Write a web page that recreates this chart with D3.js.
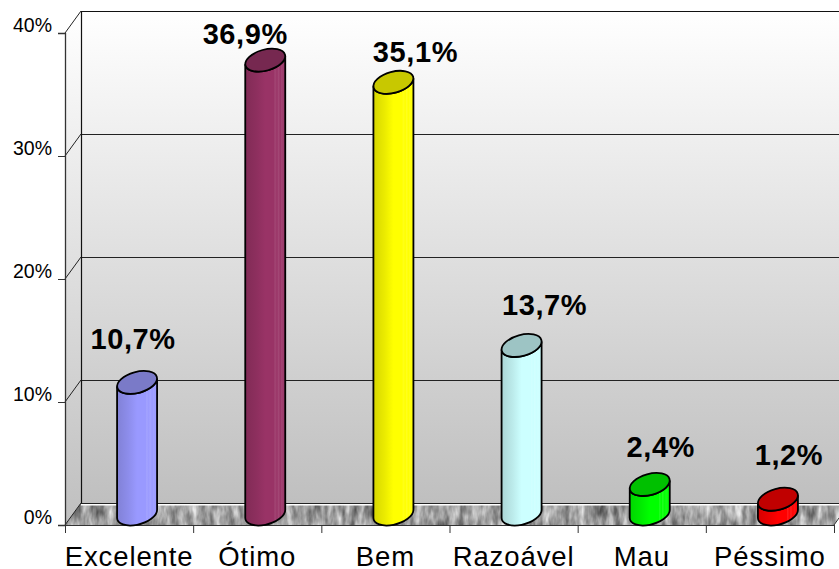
<!DOCTYPE html>
<html>
<head>
<meta charset="utf-8">
<title>Chart</title>
<script src="https://cdn.jsdelivr.net/npm/d3@7"></script>
<style>
body { margin: 0; background: #fff; }
text { font-family: "Liberation Sans", Arial, sans-serif; fill: #000; }
</style>
</head>
<body>
<script>
var categories = ["Excelente", "Ótimo", "Bem", "Razoável", "Mau", "Péssimo"];
var values = [10.7, 36.9, 35.1, 13.7, 2.4, 1.2];
var valueLabels = ["10,7%", "36,9%", "35,1%", "13,7%", "2,4%", "1,2%"];
var yTicks = [0, 10, 20, 30, 40];
var sideColors = ["#9999ff", "#993366", "#ffff00", "#ccffff", "#00ff00", "#ff0000"];
var topColors = ["#7a7ac8", "#762850", "#c8c800", "#9dc4c4", "#00c000", "#c00000"];

var width = 839, height = 569;
var depthX = 16, depthY = 22;

// the value labels were dragged by hand in the original
var labelDx = [-4, -20, 22, 23, 11, 11];
var labelDy = [-33, -16, -20, -30, -27, -34];

var svg = d3.select("body").append("svg")
    .attr("width", width)
    .attr("height", height);
var defs = svg.append("defs");

var x = d3.scaleBand().domain(categories).range([65, 834]);
var y = d3.scaleLinear().domain([0, 40]).range([525, 33]);

// wall shading
var wall = defs.append("linearGradient").attr("id", "wall")
    .attr("x1", 0).attr("y1", 0).attr("x2", 0).attr("y2", 1);
wall.append("stop").attr("offset", 0).attr("stop-color", "#ffffff");
wall.append("stop").attr("offset", 1).attr("stop-color", "#bfbfbf");

// stone look of the floor
var stone = defs.append("filter").attr("id", "stone")
    .attr("x", 0).attr("y", 0).attr("width", 1).attr("height", 1)
    .attr("color-interpolation-filters", "sRGB");
stone.append("feTurbulence").attr("type", "fractalNoise")
    .attr("baseFrequency", "0.14 0.05").attr("numOctaves", 3).attr("seed", 4);
stone.append("feColorMatrix").attr("type", "matrix")
    .attr("values", "0.8 0 0 0 0.22  0.8 0 0 0 0.22  0.8 0 0 0 0.22  0 0 0 0 1");

// cylinder body shading, darker on the left with lighter strips to the right
sideColors.forEach(function(c, i) {
    var g = defs.append("linearGradient").attr("id", "body" + i);
    var dark = d3.interpolateRgb(c, "#000");
    var light = d3.interpolateRgb(c, "#fff");
    [[0, dark(0.16)], [0.28, dark(0.08)], [0.5, c], [0.72, c], [0.74, light(0.1)],
     [0.8, c], [0.82, light(0.12)], [0.88, c], [0.9, light(0.08)], [1, c]]
        .forEach(function(s) {
            g.append("stop").attr("offset", s[0]).attr("stop-color", s[1]);
        });
});

var backLeft = 65 + depthX, backRight = width;

// back wall and side wall
svg.append("rect")
    .attr("x", backLeft).attr("y", y(40) - depthY)
    .attr("width", backRight - backLeft).attr("height", y(0) - y(40))
    .attr("fill", "url(#wall)");
svg.append("path")
    .attr("d", d3.line()([[65, y(40)], [backLeft, y(40) - depthY], [backLeft, y(0) - depthY], [65, y(0)]]))
    .attr("fill", "url(#wall)");

// floor
defs.append("clipPath").attr("id", "floorClip").append("path")
    .attr("d", d3.line()([[65, y(0)], [backLeft, y(0) - depthY], [width, y(0) - depthY], [width, y(0) - 7], [834, y(0)]]) + "Z");
svg.append("rect")
    .attr("x", 60).attr("y", y(0) - depthY).attr("width", width - 60).attr("height", depthY + 1)
    .attr("filter", "url(#stone)")
    .attr("clip-path", "url(#floorClip)");
svg.append("line")
    .attr("x1", backLeft).attr("x2", width)
    .attr("y1", y(0) - depthY + 1.5).attr("y2", y(0) - depthY + 1.5)
    .attr("stroke", "#fff").attr("stroke-width", 2);

// gridlines on the back wall and the diagonals on the side wall
var grid = svg.append("g").attr("stroke", "#222").attr("stroke-width", 1);
grid.selectAll(".gridline").data(yTicks).join("line")
    .attr("class", "gridline")
    .attr("x1", backLeft).attr("x2", width)
    .attr("y1", function(d) { return Math.round(y(d) - depthY) + 0.5; })
    .attr("y2", function(d) { return Math.round(y(d) - depthY) + 0.5; });
grid.selectAll(".diag").data(yTicks).join("line")
    .attr("class", "diag")
    .attr("x1", 65).attr("x2", backLeft)
    .attr("y1", function(d) { return y(d); })
    .attr("y2", function(d) { return y(d) - depthY; });
svg.append("line")
    .attr("x1", backLeft + 0.5).attr("x2", backLeft + 0.5)
    .attr("y1", y(40) - depthY).attr("y2", y(0) - depthY)
    .attr("stroke", "#111").attr("stroke-width", 1.2);
svg.append("line")
    .attr("x1", backLeft).attr("x2", width)
    .attr("y1", y(40) - depthY + 0.5).attr("y2", y(40) - depthY + 0.5)
    .attr("stroke", "#111").attr("stroke-width", 1.2);
svg.append("line")
    .attr("x1", 834).attr("x2", width)
    .attr("y1", y(0)).attr("y2", y(0) - 7)
    .attr("stroke", "#333");

// axes
var yAxis = d3.axisLeft(y)
    .tickValues(yTicks)
    .tickSize(7)
    .tickFormat(function(d) { return d + "%"; });
var yG = svg.append("g").attr("transform", "translate(65,0)").call(yAxis);
yG.selectAll("path").attr("stroke", "#333").attr("stroke-width", 1.3);
yG.selectAll("line").attr("stroke", "#333");
yG.selectAll("text")
    .attr("font-size", 19.5).attr("x", -13).attr("y", -5.5).attr("dy", "0.2em")
    .style("font-family", '"Liberation Sans", Arial, sans-serif');

var xAxis = d3.axisBottom(x).tickSize(0).tickPadding(21.5);
var xG = svg.append("g").attr("transform", "translate(0," + y(0) + ")").call(xAxis);
xG.selectAll("path").attr("stroke", "#333").attr("stroke-width", 1.2);
xG.selectAll("text")
    .attr("font-size", 27.5)
    .attr("letter-spacing", 0.9)
    .style("font-family", '"Liberation Sans", Arial, sans-serif');
var tickEdges = [65].concat(categories.map(function(c) { return x(c) + x.bandwidth(); }));
svg.selectAll(".xtick").data(tickEdges).join("line")
    .attr("class", "xtick")
    .attr("x1", function(d) { return d + 0.5; }).attr("x2", function(d) { return d + 0.5; })
    .attr("y1", y(0)).attr("y2", y(0) + 8)
    .attr("stroke", "#333");

// cylinders
var halfW = 20, tilt = 4, rx = 20.5, ry = 10.5, rot = -15.4;
var bars = svg.selectAll(".bar").data(categories).join("g").attr("class", "bar");

function centerX(c) { return x(c) + x.bandwidth() / 2 + depthX / 2; }
function topY(i) { return y(values[i]) - depthY / 2; }
var bottomY = y(0) - depthY / 2;

bars.append("path")
    .attr("fill", function(d, i) { return "url(#body" + i + ")"; })
    .attr("stroke", "#000").attr("stroke-width", 1.8)
    .attr("d", function(d, i) {
        var c = centerX(d), t = topY(i);
        return "M" + (c - halfW) + "," + (t + tilt) +
            "L" + (c - halfW) + "," + (bottomY + tilt) +
            "A" + rx + "," + ry + " " + rot + " 0 0 " + (c + halfW) + "," + (bottomY - tilt) +
            "L" + (c + halfW) + "," + (t - tilt) +
            "A" + rx + "," + ry + " " + rot + " 0 1 " + (c - halfW) + "," + (t + tilt) + "Z";
    });
bars.append("ellipse")
    .attr("rx", rx).attr("ry", ry)
    .attr("transform", function(d, i) {
        return "translate(" + centerX(d) + "," + topY(i) + ") rotate(" + rot + ")";
    })
    .attr("fill", function(d, i) { return topColors[i]; })
    .attr("stroke", "#000").attr("stroke-width", 1.8);

// value labels
bars.append("text")
    .attr("x", function(d, i) { return centerX(d) + labelDx[i]; })
    .attr("y", function(d, i) { return topY(i) + labelDy[i]; })
    .attr("text-anchor", "middle")
    .attr("font-size", 29)
    .attr("letter-spacing", 0.6)
    .attr("font-weight", "bold")
    .text(function(d, i) { return valueLabels[i]; });
</script>
</body>
</html>
